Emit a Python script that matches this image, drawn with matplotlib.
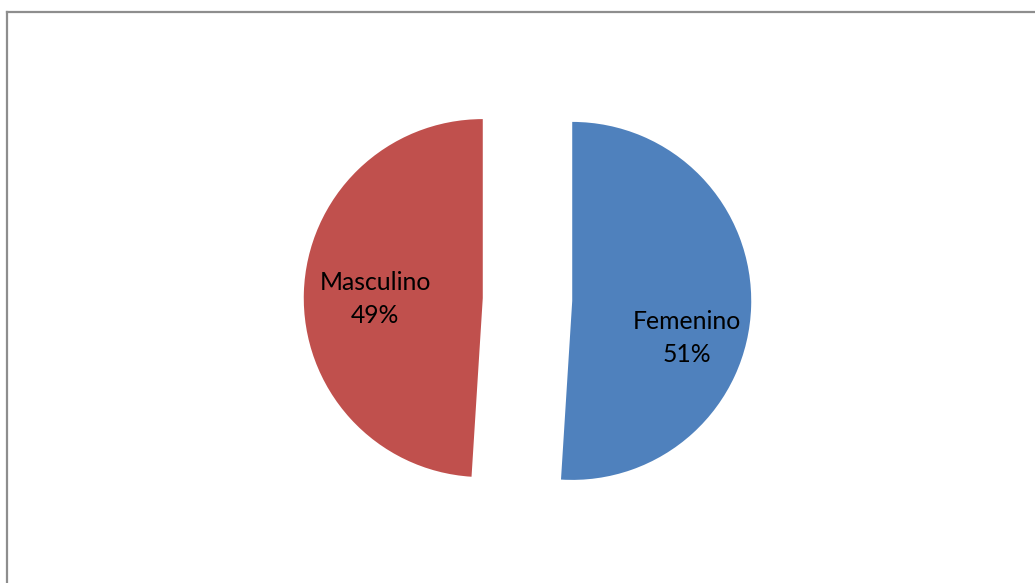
import matplotlib.pyplot as plt
from matplotlib.lines import Line2D

labels = ['Femenino', 'Masculino']
values = [51, 49]
colors = ['#4F81BD', '#C0504D']

W, H = 1035, 583
fig = plt.figure(figsize=(W / 100, H / 100), dpi=100)
fig.patch.set_facecolor('white')

# chart frame (only top and left edges show)
fx, fy = 6.5 / W, 1 - 11.5 / H
fig.add_artist(Line2D([fx, fx], [0, fy], color='#8e8e8e', lw=1.6))
fig.add_artist(Line2D([fx, 1], [fy, fy], color='#8e8e8e', lw=1.6))

ax = fig.add_axes([0, 0, 1, 1])
ax.axis('off')

ax.pie(values, colors=colors, startangle=90, counterclock=False,
       explode=[0.25, 0.25], radius=1.0)

# one data unit = 179 px, pie centre at (527.5, 299.5) px
r = 179.0
cx, cy = 527.5, 299.5
ax.set_xlim(-cx / r, (W - cx) / r)
ax.set_ylim(-(H - cy) / r, cy / r)

label_pos = [(0.891, -0.215), (-0.852, 0.003)]
for lab, v, (x, y) in zip(labels, values, label_pos):
    ax.text(x, y, f'{lab}\n{v}%', ha='center', va='center',
            fontsize=17.8, family='Lato', linespacing=1.5, color='black')

fig.savefig('out.png', dpi=100)
